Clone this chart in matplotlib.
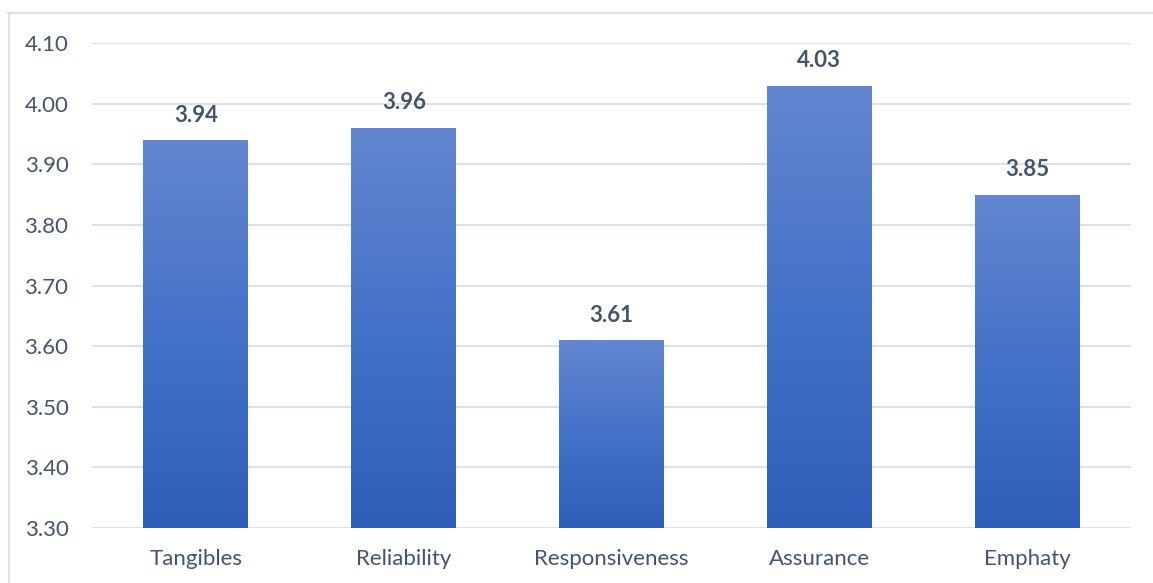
import numpy as np
import matplotlib.pyplot as plt
from matplotlib.colors import LinearSegmentedColormap

categories = ["Tangibles", "Reliability", "Responsiveness", "Assurance", "Emphaty"]
scores = [3.94, 3.96, 3.61, 4.03, 3.85]
yticks = [3.30, 3.40, 3.50, 3.60, 3.70, 3.80, 3.90, 4.00, 4.10]

plt.rcParams["font.family"] = ["Lato", "DejaVu Sans"]
text_col = "#44546A"
grid_col = "#DDE1E6"

fig = plt.figure(figsize=(11.53, 5.83), dpi=100)
ax = fig.add_axes([0.0798, 0.0943, 0.9012, 0.8317])

x = np.arange(len(categories))
bars = ax.bar(x, scores, width=0.505, bottom=0, color="none", zorder=3)

cmap = LinearSegmentedColormap.from_list("grad", ["#2E5EB9", "#4472C8", "#6386CF"])
grad = np.linspace(0, 1, 256).reshape(-1, 1)
for b, v in zip(bars, scores):
    x0 = b.get_x()
    im = ax.imshow(grad, cmap=cmap, aspect="auto", origin="lower",
                   extent=[x0, x0 + b.get_width(), 3.30, v], zorder=3)
    im.set_clip_path(b)
    ax.annotate(f"{v:.2f}", (b.get_x() + b.get_width() / 2, v),
                xytext=(0, 10.5), textcoords="offset points", ha="center", va="bottom",
                fontsize=16, fontweight="bold", color=text_col)

ax.set_xlim(-0.5, len(categories) - 0.5)
ax.set_ylim(3.30, 4.10)
ax.set_yticks(yticks)
ax.set_yticklabels([f"{t:.2f}" for t in yticks])
ax.set_xticks(x)
ax.set_xticklabels(categories)
ax.tick_params(axis="both", length=0, colors=text_col, labelsize=16)
ax.tick_params(axis="y", pad=17)
ax.tick_params(axis="x", pad=15)
ax.yaxis.grid(True, color=grid_col, linewidth=1.4, zorder=0)
for s in ax.spines.values():
    s.set_visible(False)
ax.set_axisbelow(True)

# chart frame (top and left visible)
fig.add_artist(plt.Line2D([0.007, 1.0], [0.978, 0.978], color=grid_col, linewidth=1.5))
fig.add_artist(plt.Line2D([0.0075, 0.0075], [0.0, 0.978], color=grid_col, linewidth=1.5))

fig.savefig("out.png", dpi=100)
